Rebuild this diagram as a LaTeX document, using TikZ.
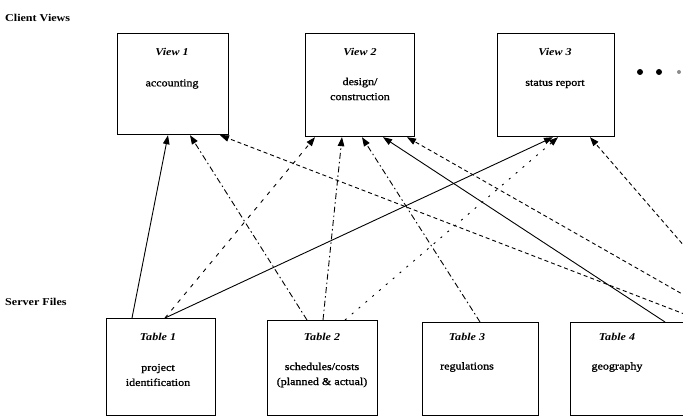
\documentclass[tikz,border=0pt]{standalone}
\usepackage{fontspec}
\setmainfont{Liberation Serif}[FakeStretch=1.15]
\usetikzlibrary{arrows.meta}
\begin{document}
\begin{tikzpicture}[x=1pt,y=-1pt,
  box/.style={draw, line width=1.2pt, anchor=north west, inner sep=0pt},
  ttl/.style={font=\fontsize{10.5}{12}\selectfont\bfseries\itshape, inner sep=0pt},
  body/.style={font=\fontsize{10.5}{15}\selectfont\addfontfeature{FakeBold=1.2}, align=center, inner sep=0pt},
  side/.style={font=\fontsize{10.5}{12}\selectfont\bfseries, anchor=west, inner sep=0pt},
  conn/.style={line width=0.9pt, -{Triangle[length=9pt,width=6.5pt]}},
  dashc/.style={dash pattern=on 4pt off 3pt},
  dashdotc/.style={dash pattern=on 6pt off 3pt on 1.5pt off 3pt},
  loosec/.style={dash pattern=on 4pt off 6pt},
  dotc/.style={dash pattern=on 2pt off 7pt},
  dotn/.style={circle, fill=black, inner sep=0pt, minimum size=6pt}]
\fill[white] (0,0) rectangle (683,417);
\clip (0,0) rectangle (683,417);

% labels at left
\node[side] (cv) at (5,18) {Client Views};
\node[side] (sf) at (5,302) {Server Files};

% client view boxes
\node[box, minimum width=111pt, minimum height=101pt] (v1) at (117,33) {};
\node[box, minimum width=109pt, minimum height=103pt] (v2) at (305,33) {};
\node[box, minimum width=117pt, minimum height=103pt] (v3) at (497,33) {};
\node[ttl] (v1t) at (172,52) {View 1};
\node[body] (v1b) at (172,84) {accounting};
\node[ttl] (v2t) at (360,52) {View 2};
\node[body] (v2b) at (360,89) {design/\\construction};
\node[ttl] (v3t) at (555,52) {View 3};
\node[body] (v3b) at (555,84) {status report};

% continuation dots
\node[dotn] (d1) at (640,72) {};
\node[dotn] (d2) at (659,72) {};
\node[dotn, minimum size=4pt, fill=black!45] (d3) at (679,72) {};

% server file boxes
\node[box, minimum width=109pt, minimum height=97pt] (t1) at (106,318) {};
\node[box, minimum width=110pt, minimum height=95pt] (t2) at (267,320) {};
\node[box, minimum width=116pt, minimum height=93pt] (t3) at (422,322) {};
\node[box, minimum width=118pt, minimum height=93pt] (t4) at (570,322) {};
\node[ttl] (t1t) at (158,337) {Table 1};
\node[body] (t1b) at (158,375) {project\\identification};
\node[ttl] (t2t) at (322,337) {Table 2};
\node[body] (t2b) at (322,375) {schedules/costs\\(planned \& actual)};
\node[ttl] (t3t) at (467,337) {Table 3};
\node[body] (t3b) at (467,367) {regulations};
\node[ttl] (t4t) at (617,337) {Table 4};
\node[body] (t4b) at (617,367) {geography};

% off-picture ends (from a further table beyond the right edge)
\coordinate (e1) at (705,322);
\coordinate (e2) at (705,307);
\coordinate (e3) at (705,270);

% connectors into View 1
\draw[conn] ([xshift=26pt]t1.north west) -- ([xshift=51pt]v1.south west);
\draw[conn, dashdotc] ([xshift=40pt]t2.north west) -- ([xshift=73pt]v1.south west);
\draw[conn, dashc] (e1) -- ([xshift=103pt]v1.south west);

% connectors into View 2
\draw[conn, loosec] ([xshift=59pt]t1.north west) -- ([xshift=10pt]v2.south west);
\draw[conn, dashdotc] ([xshift=56pt]t2.north west) -- ([xshift=37pt]v2.south west);
\draw[conn, dashdotc] ([xshift=58pt]t3.north west) -- ([xshift=57pt]v2.south west);
\draw[conn] ([xshift=95pt]t4.north west) -- ([xshift=78pt]v2.south west);
\draw[conn, dashc] (e2) -- ([xshift=102pt]v2.south west);

% connectors into View 3
\draw[conn] ([xshift=59pt]t1.north west) -- ([xshift=56pt]v3.south west);
\draw[conn, dotc] ([xshift=78pt]t2.north west) -- ([xshift=61pt]v3.south west);
\draw[conn, dashc] (e3) -- ([xshift=93pt]v3.south west);
\end{tikzpicture}
\end{document}
